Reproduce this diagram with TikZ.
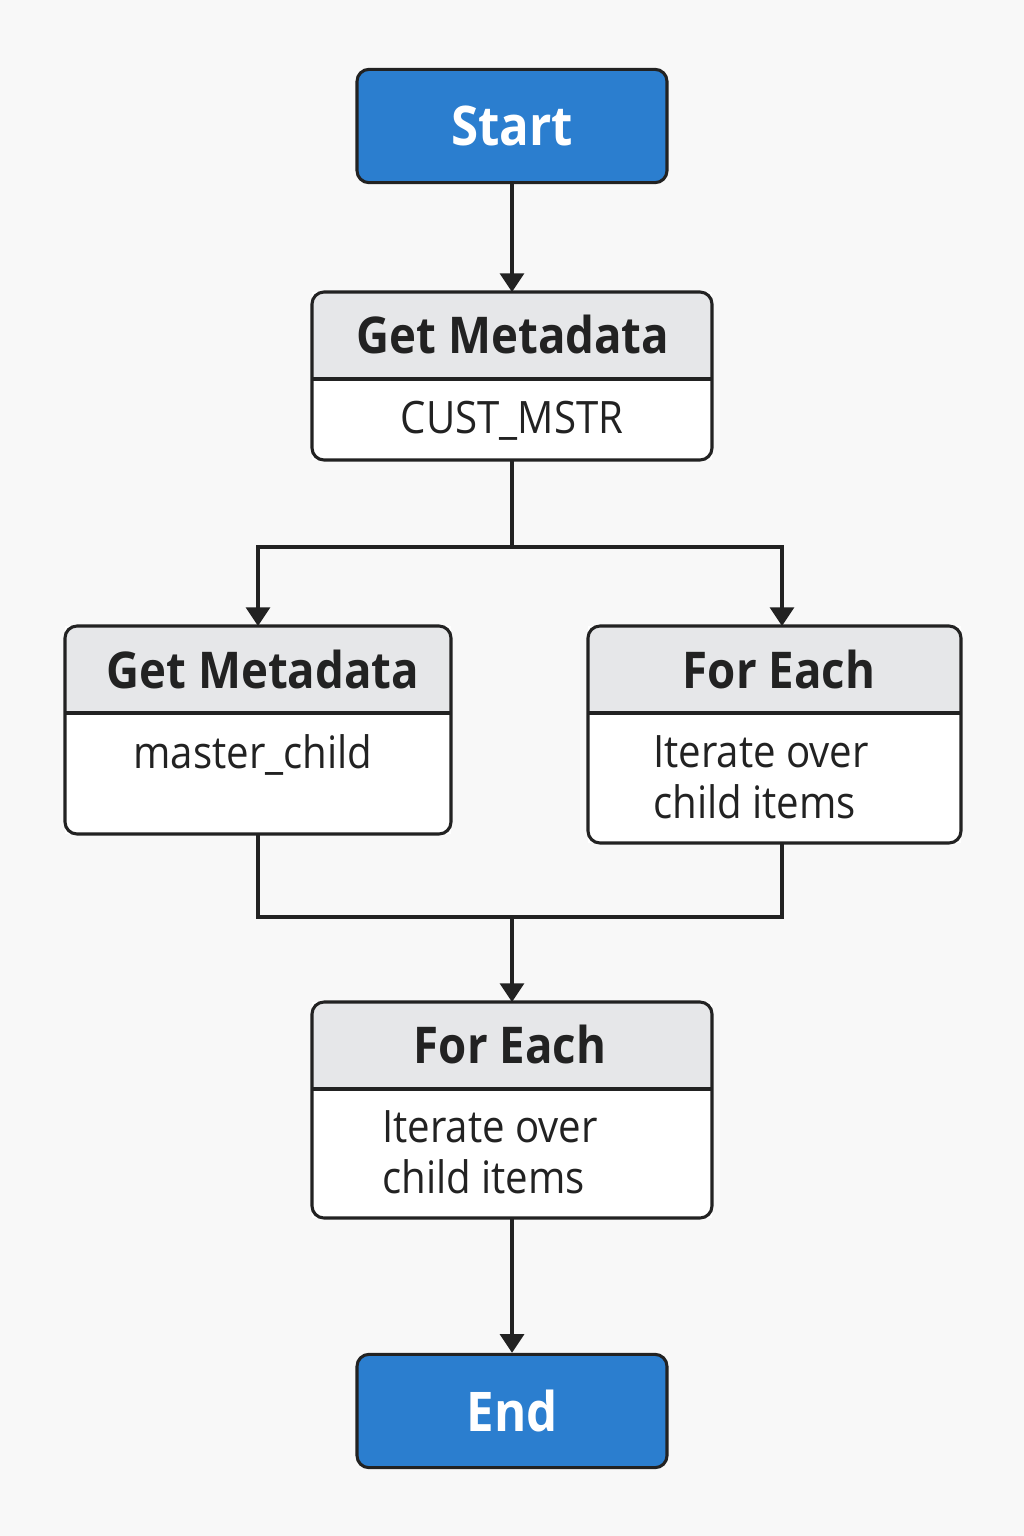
\documentclass[tikz,border=0pt]{standalone}
\usepackage{fontspec}
\setmainfont{Open Sans}[FakeStretch=0.9]
\usetikzlibrary{arrows.meta}
\definecolor{flowblue}{HTML}{2B7ECF}
\definecolor{headgray}{HTML}{E6E7E9}
\definecolor{inkdark}{HTML}{222222}
\definecolor{pagebg}{HTML}{F8F8F8}
\tikzset{
    terminal/.style={draw=inkdark, line width=2.3pt, fill=flowblue, rounded corners=9pt,
        minimum width=232.5pt, minimum height=85pt, text=white,
        font=\bfseries\fontsize{41}{49}\selectfont},
    card/.style={fill=white, outer sep=0pt},
    frame/.style={draw=inkdark, line width=2.3pt, rounded corners=9pt},
    cardtitle/.style={anchor=base, text=inkdark, font=\bfseries\fontsize{38}{46}\selectfont},
    cardbody/.style={text=inkdark, align=left, inner sep=0pt, font=\fontsize{33.5}{38.25}\selectfont},
    link/.style={draw=inkdark, line width=2.3pt},
    arrow/.style={link, -{Triangle[length=14pt, width=18pt]}}
}
\begin{document}
\begin{tikzpicture}[x=0.75pt, y=-0.75pt]
        \fill [pagebg] (0, 0) rectangle (1024, 1536);
        \pgfmathsetmacro{\headheight}{87*0.75}
        % cards: name / centre x / centre y / width / height
        \foreach \name/\cx/\cy/\w/\h in {meta1/512/376/400/168, meta2/258/730/386/208, each1/774.5/734.5/373/217, each2/512/1110/400/216}{
                \node [card, minimum width=\w*0.75pt, minimum height=\h*0.75pt] (\name) at (\cx, \cy) {};
                \begin{scope}
                    \clip [rounded corners=9pt] (\name.south west) rectangle (\name.north east);
                    \fill [headgray] (\name.north west) rectangle ([yshift=-\headheight pt]\name.north east);
                \end{scope}
                \draw [link] ([yshift=-\headheight pt]\name.north west) -- ([yshift=-\headheight pt]\name.north east);
                \draw [frame] (\name.south west) rectangle (\name.north east);
            }
            \node [terminal] (start) at (512, 126) {Start};
            \node [terminal] (end) at (512, 1411) {End};
            \node [cardtitle] (meta1-title) at (513, 353) {Get Metadata};
            \node [cardbody, anchor=base] (meta1-body) at (512, 433) {CUST\_MSTR};
            \node [cardtitle] (meta2-title) at (263, 688) {Get Metadata};
            \node [cardbody, anchor=base] (meta2-body) at (253, 768) {master\_child};
            \node [cardtitle] (each1-title) at (779, 688) {For Each};
            \node [cardbody, anchor=base west] (each1-body) at (653, 818) {Iterate over\\child items};
            \node [cardtitle] (each2-title) at (510, 1063) {For Each};
            \node [cardbody, anchor=base west] (each2-body) at (382, 1193) {Iterate over\\child items};
            \coordinate (split) at (512, 547);
            \coordinate (merge) at (512, 917);
            \draw [arrow] (start.south) -- (meta1.north);
            \draw [link] (meta1.south) -- (split);
            \draw [arrow] (split) -| (meta2.north);
            \draw [arrow] (split) -| ([xshift=5.6pt]each1.north);
            \draw [link] (meta2.south) |- (merge);
            \draw [link] ([xshift=5.6pt]each1.south) |- (merge);
            \draw [arrow] (merge) -- (each2.north);
            \draw [arrow] (each2.south) -- (end.north);
    \end{tikzpicture}
\end{document}
